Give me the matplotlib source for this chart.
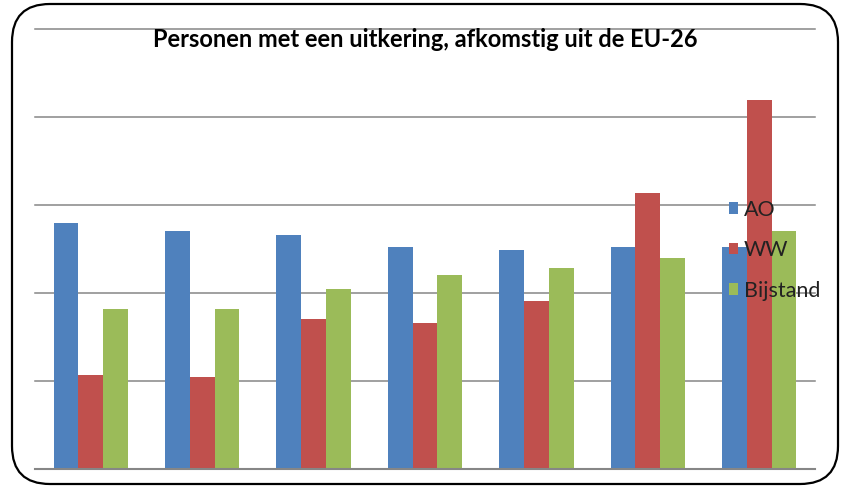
import numpy as np
import matplotlib
matplotlib.use('Agg')
import matplotlib.pyplot as plt
from matplotlib.patches import FancyBboxPatch

# data (in gridline units; no axis labels shown)
groups = ['1', '2', '3', '4', '5', '6', '7']
series = ['AO', 'WW', 'Bijstand']
ao = [2.80, 2.70, 2.66, 2.52, 2.49, 2.52, 2.52]
ww = [1.06, 1.04, 1.70, 1.66, 1.91, 3.14, 4.20]
bijstand = [1.82, 1.82, 2.05, 2.20, 2.28, 2.40, 2.70]
colors = ['#4F81BD', '#C0504D', '#9BBB59']

plt.rcParams['font.family'] = ['Lato', 'DejaVu Sans']

fig = plt.figure(figsize=(8.43, 4.90), dpi=100)

# rounded frame around the chart
frame = FancyBboxPatch((12 / 843, 6 / 490), 826 / 843, 480 / 490,
                       boxstyle='round,pad=0,rounding_size=0.045',
                       transform=fig.transFigure, fill=False,
                       edgecolor='black', linewidth=1.6,
                       mutation_aspect=843 / 490)
fig.patches.append(frame)

ax = fig.add_axes([35 / 843, 21.5 / 490, 780 / 843, 439 / 490])

x = np.arange(len(groups))
w = 1 / 4.5
for i, (vals, name) in enumerate(zip([ao, ww, bijstand], series)):
    ax.bar(x + (i - 1) * w, vals, w, color=colors[i], label=name, zorder=3)

ax.set_xlim(-0.5, len(groups) - 0.5)
ax.set_ylim(0, 5)
for yv in range(1, 6):
    ax.axhline(yv, color='#868686', linewidth=1.1, zorder=1, clip_on=False)
ax.axhline(0, color='#868686', linewidth=1.5, zorder=4, clip_on=False)
ax.set_xticks([])
ax.set_yticks([])
for s in ax.spines.values():
    s.set_visible(False)

fig.text(425 / 843, 443 / 490, 'Personen met een uitkering, afkomstig uit de EU-26',
         ha='center', va='baseline', fontsize=17, fontweight='bold', color='black')

leg = ax.legend(loc='upper left', bbox_to_anchor=(718 / 843, 301 / 490),
                bbox_transform=fig.transFigure, frameon=False,
                fontsize=15.5, handlelength=0.45, handleheight=0.45,
                handletextpad=0.25, labelspacing=0.95, borderpad=0)
leg.set_zorder(10)
for t in leg.get_texts():
    t.set_color('#222222')

fig.savefig('out.png', dpi=100)
